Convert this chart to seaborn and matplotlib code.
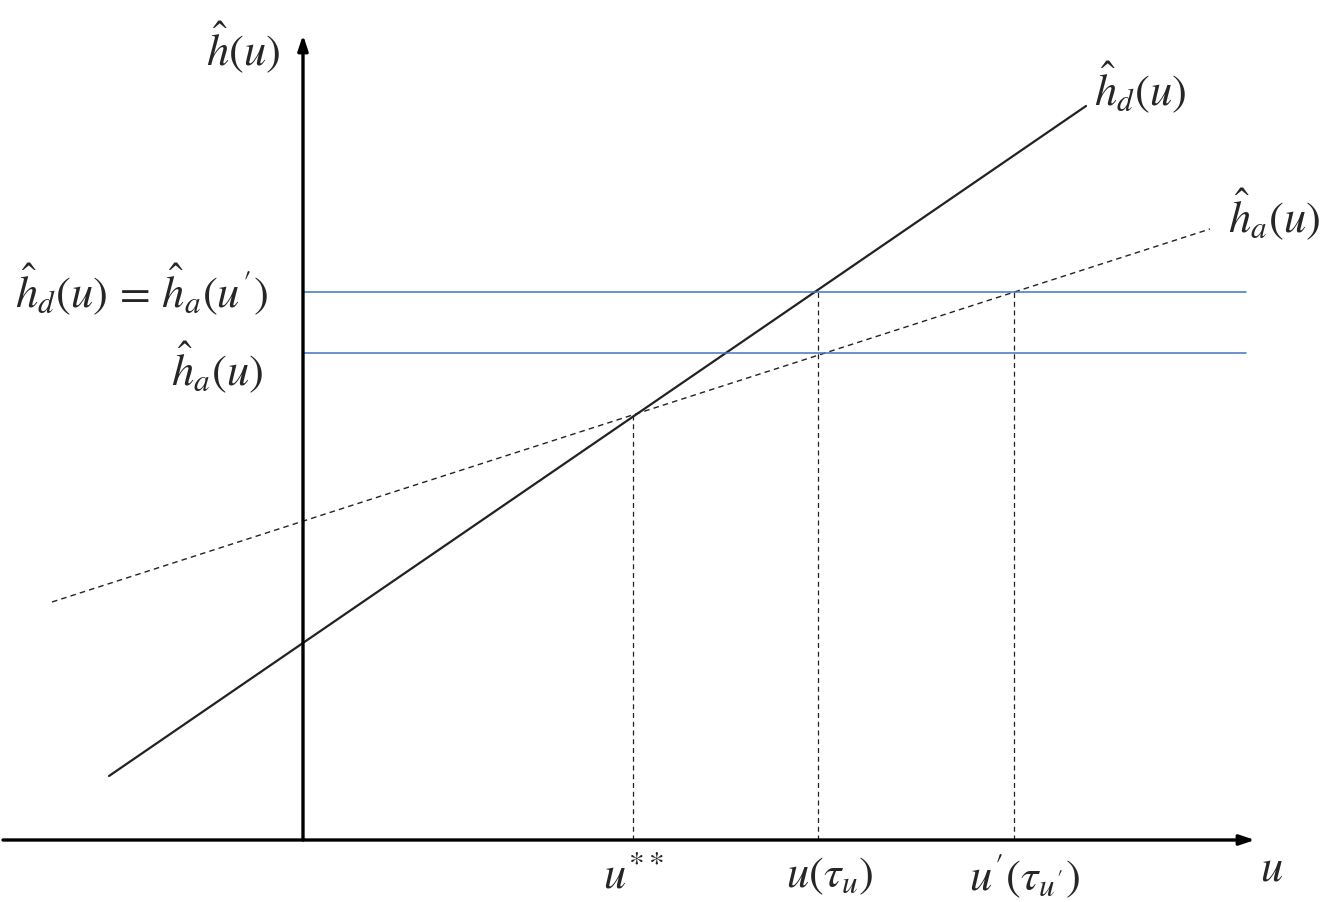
import matplotlib
matplotlib.use("Agg")
import matplotlib.pyplot as plt
import seaborn as sns

# schematic coordinates (u to the right, h upward)
u_axis = [3, 1255]          # horizontal axis extent
h_axis = [62, 867]          # vertical axis extent
origin_u, origin_h = 303, 62

hd_u = [109, 1086]          # solid line h_d(u)
hd_h = [126, 796]
ha_u = [52, 1210]           # dashed line h_a(u)
ha_h = [300, 673]

level_h = [610, 549]        # blue horizontal levels: h_d(u)=h_a(u'), h_a(u)
level_u = [303, 1246]

drop_u = [633, 818, 1014]   # dashed verticals down to u axis
drop_top = [490, 610, 610]

tick_labels = [r"$u^{**}$", r"$u(\tau_u)$", r"$u'(\tau_{u'})$"]
tick_u = [633, 830, 1025]

sns.set_style("white")
plt.rcParams["mathtext.fontset"] = "stix"
plt.rcParams["font.family"] = ["STIXGeneral", "DejaVu Serif"]

fig = plt.figure(figsize=(13.28, 9.02), dpi=100)
ax = fig.add_axes([0, 0, 1, 1])
ax.set_xlim(0, 1328)
ax.set_ylim(0, 902)
ax.axis("off")

# main lines
sns.lineplot(x=hd_u, y=hd_h, ax=ax, color="#222222", lw=1.6, estimator=None, sort=False)
sns.lineplot(x=ha_u, y=ha_h, ax=ax, color="#222222", lw=1.0, linestyle=(0, (4, 3)),
             estimator=None, sort=False)

for h in level_h:
    sns.lineplot(x=level_u, y=[h, h], ax=ax, color="#4472C4", lw=1.1,
                 estimator=None, sort=False)

for u, top in zip(drop_u, drop_top):
    sns.lineplot(x=[u, u], y=[origin_h, top], ax=ax, color="#222222", lw=0.9,
                 linestyle=(0, (4, 3)), estimator=None, sort=False)

# axes with arrows
ax.annotate("", xy=(u_axis[1], origin_h), xytext=(u_axis[0], origin_h),
            arrowprops=dict(arrowstyle="-|>,head_length=0.9,head_width=0.3",
                            color="black", lw=2.4, shrinkA=0, shrinkB=0))
ax.annotate("", xy=(origin_u, h_axis[1]), xytext=(origin_u, h_axis[0]),
            arrowprops=dict(arrowstyle="-|>,head_length=0.9,head_width=0.3",
                            color="black", lw=2.4, shrinkA=0, shrinkB=0))

fs = 32
ax.text(243, 855, r"$\hat{h}(u)$", fontsize=fs, ha="center", va="center")
ax.text(1140, 815, r"$\hat{h}_d(u)$", fontsize=fs, ha="center", va="center")
ax.text(1274, 688, r"$\hat{h}_a(u)$", fontsize=fs, ha="center", va="center")
ax.text(268, 613, r"$\hat{h}_d(u)\,=\,\hat{h}_a(u')$", fontsize=fs, ha="right", va="center")
ax.text(263, 535, r"$\hat{h}_a(u)$", fontsize=fs, ha="right", va="center")
for lab, u in zip(tick_labels, tick_u):
    ax.text(u, 26, lab, fontsize=fs, ha="center", va="center")
ax.text(1272, 32, r"$u$", fontsize=fs, ha="center", va="center")

fig.savefig("out.png", dpi=100)
